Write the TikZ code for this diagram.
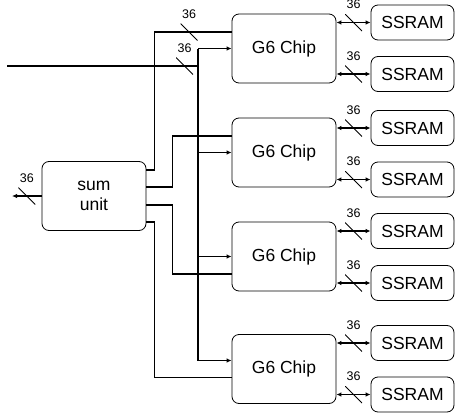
\documentclass[tikz,border=0pt]{standalone}
\usepackage{fontspec}
\setmainfont{Liberation Sans}
\usetikzlibrary{arrows.meta}

\begin{document}
\begin{tikzpicture}[
  x=1pt, y=-1pt,
  block/.style={draw, rounded corners=7pt, line width=0.8pt, minimum width=104pt,
    minimum height=69pt, align=center, font=\fontsize{17.5}{20.5}\selectfont},
  mem/.style={block, minimum width=83pt, minimum height=35pt},
  wire/.style={line width=1.2pt},
  arrow/.style={wire, -{Latex[length=5pt,width=4.5pt]}},
  biarrow/.style={wire, {Latex[length=5pt,width=4.5pt]}-{Latex[length=5pt,width=4.5pt]}},
  bus/.style={minimum size=17pt, inner sep=0pt,
    path picture={\draw[-, line width=0.8pt] (path picture bounding box.north west)
      -- (path picture bounding box.south east);},
    label={[font=\fontsize{12.5}{14}\selectfont, inner sep=1pt, label distance=3pt]above:36}}
]
\useasboundingbox (0,0) rectangle (455,415);

\node[block] (sum) at (94,196) {sum\\unit};
\node[block] (chip1) at (284,48.5) {G6 Chip};
\node[block] (chip2) at (284,152.5) {G6 Chip};
\node[block] (chip3) at (284,256.5) {G6 Chip};
\node[block] (chip4) at (284,369) {G6 Chip};

\node[mem] (ram1) at (412.5,22.5) {SSRAM};
\node[mem] (ram2) at (412.5,74) {SSRAM};
\node[mem] (ram3) at (412.5,128) {SSRAM};
\node[mem] (ram4) at (412.5,179.5) {SSRAM};
\node[mem] (ram5) at (412.5,231) {SSRAM};
\node[mem] (ram6) at (412.5,283) {SSRAM};
\node[mem] (ram7) at (412.5,343) {SSRAM};
\node[mem] (ram8) at (412.5,394.5) {SSRAM};

\coordinate (in) at (7,66);
\coordinate (junc) at (198,66);
\coordinate (out) at (12,196);
\coordinate (chip4in) at ([yshift=8.5pt]chip4.west);

\draw[arrow] (sum.west) -- node[bus] {} (out);

\draw[wire] (in) -- (junc);
\node[bus] (inbus) at (184.5,66) {};
\draw[wire] (junc |- chip1.west) -- (junc |- chip4in);
\draw[arrow] (junc |- chip1.west) -- (chip1.west);
\draw[arrow] (junc |- chip2.west) -- (chip2.west);
\draw[arrow] (junc |- chip3.west) -- (chip3.west);
\draw[arrow] (junc |- chip4in) -- (chip4in);

\draw[wire] ([yshift=26pt]sum.east) -- ++(8,0) |- ([yshift=16.5pt]chip1.west);
\node[bus] (sumbus) at (189,32) {};
\draw[wire] ([yshift=9pt]sum.east) -- ++(26,0) |- ([yshift=16.5pt]chip2.west);
\draw[wire] ([yshift=-9pt]sum.east) -- ++(26,0) |- ([yshift=-17.5pt]chip3.west);
\draw[wire] ([yshift=-26pt]sum.east) -- ++(8,0) |- ([yshift=-8.5pt]chip4.west);

\draw[biarrow] (chip1.east |- ram1.west) -- node[bus] {} (ram1.west);
\draw[biarrow] (chip1.east |- ram2.west) -- node[bus] {} (ram2.west);
\draw[biarrow] (chip2.east |- ram3.west) -- node[bus] {} (ram3.west);
\draw[biarrow] (chip2.east |- ram4.west) -- node[bus] {} (ram4.west);
\draw[biarrow] (chip3.east |- ram5.west) -- node[bus] {} (ram5.west);
\draw[biarrow] (chip3.east |- ram6.west) -- node[bus] {} (ram6.west);
\draw[biarrow] (chip4.east |- ram7.west) -- node[bus] {} (ram7.west);
\draw[biarrow] (chip4.east |- ram8.west) -- node[bus] {} (ram8.west);

\end{tikzpicture}
\end{document}
